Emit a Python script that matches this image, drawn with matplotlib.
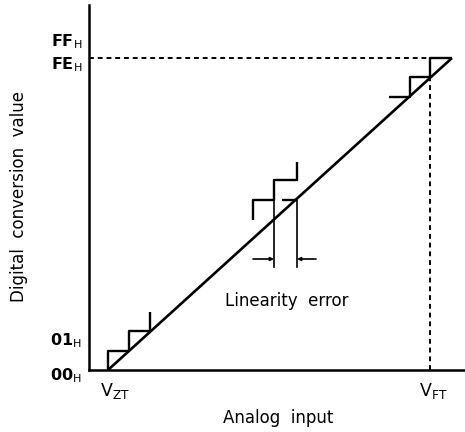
import matplotlib
matplotlib.use("Agg")
from matplotlib import pyplot as plt

# staircase segments (x = analog input, y = digital code)
low_x = [19, 19, 40, 40, 61, 61]
low_y = [0, 19, 19, 39, 39, 58]
mid_x = [164, 164, 185, 185, 208, 208]
mid_y = [150, 170, 170, 190, 190, 208]
top_x = [300, 321, 321, 341, 341, 363]
top_y = [273, 273, 293, 293, 312, 312]
ideal_x = [19, 363]
ideal_y = [0, 312]
tick_x = [193, 208]
tick_y = [170, 170]

v_zt = 19
v_ft = 341
fe_level = 312
err_left = 185
err_right = 208
err_bottom = 103
err_arrow_y = 111

ytick_pos = [328, 305, 29, -6]
ytick_lab = ["FF", "FE", "01", "00"]

W, H = 465, 432
fig = plt.figure(figsize=(W / 100, H / 100), dpi=100)
ax = fig.add_axes([89 / W, 62 / H, 376 / W, 365 / H])
ax.set_xlim(0, 376)
ax.set_ylim(0, 365)
for s in ["top", "right"]:
    ax.spines[s].set_visible(False)
for s in ["left", "bottom"]:
    ax.spines[s].set_linewidth(1.8)
ax.set_xticks([])
ax.set_yticks([])

k = "black"
ax.plot(ideal_x, ideal_y, color=k, lw=1.9, solid_capstyle="butt")
for xs, ys in [(low_x, low_y), (mid_x, mid_y), (top_x, top_y), (tick_x, tick_y)]:
    ax.plot(xs, ys, color=k, lw=1.7, solid_capstyle="butt")

# dashed guides to full scale
ax.plot([0, v_ft], [fe_level, fe_level], color=k, lw=1.4, ls=(0, (2.5, 2)))
ax.plot([v_ft, v_ft], [0, top_y[2]], color=k, lw=1.4, ls=(0, (2.5, 2)))

# linearity error markers
ax.plot([err_left, err_left], [err_bottom, mid_y[1]], color=k, lw=1.2)
ax.plot([err_right, err_right], [err_bottom, mid_y[1]], color=k, lw=1.2)
arr = dict(arrowstyle="-|>", color=k, lw=1.2, mutation_scale=5, shrinkA=0, shrinkB=0)
ax.annotate("", xy=(err_left, err_arrow_y), xytext=(err_left - 21, err_arrow_y), arrowprops=arr)
ax.annotate("", xy=(err_right, err_arrow_y), xytext=(err_right + 19, err_arrow_y), arrowprops=arr)
ax.text(198, 69, "Linearity  error", fontsize=12, ha="center", va="center")

for p, lab in zip(ytick_pos, ytick_lab):
    ax.text(-7, p, lab + r"$_{\mathrm{H}}$", fontsize=11.5, ha="right", va="center",
            fontweight="bold", clip_on=False)

ax.text(v_zt + 7, -21, r"V$_{\mathrm{ZT}}$", fontsize=12.5, ha="center", va="center", clip_on=False)
ax.text(v_ft + 3, -21, r"V$_{\mathrm{FT}}$", fontsize=12.5, ha="center", va="center", clip_on=False)

ax.text(189, -48, "Analog  input", fontsize=12, ha="center", va="center", clip_on=False)
ax.text(-70, 174, "Digital  conversion  value", fontsize=12, rotation=90,
        ha="center", va="center", clip_on=False)

fig.savefig("out.png", dpi=100)
